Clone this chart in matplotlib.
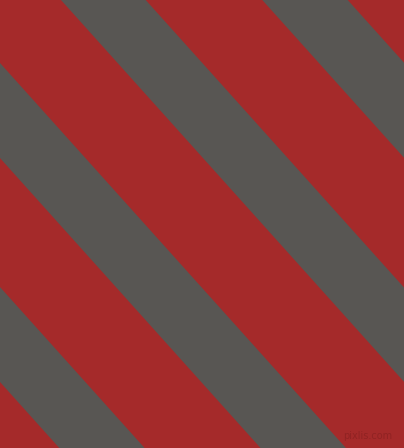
import matplotlib
matplotlib.use("Agg")
import matplotlib.pyplot as plt

# stripe edges where each grey band meets the top edge line (px), and band slope
grey_left = [-343.2, -142.0, 61.0, 262.3]
grey_right = [-257.9, -56.6, 145.7, 347.7]
slope = 1.113

red = "#a52a2a"
grey = "#585653"
W, H = 404, 448

fig = plt.figure(figsize=(W / 100, H / 100), dpi=100)
ax = fig.add_axes([0, 0, 1, 1])
ax.set_xlim(0, W)
ax.set_ylim(H, 0)
ax.set_facecolor(red)
ax.axis("off")
fig.patch.set_facecolor(red)

shift = H / slope
for a, b in zip(grey_left, grey_right):
    ax.fill([a, b, b + shift, a + shift], [0, 0, H, H], color=grey, lw=0)

ax.text(392, 436, "pixlis.com", fontsize=7, color="#8e2222", ha="right", va="center",
        alpha=0.9)

fig.savefig("out.png", dpi=100, facecolor=red)
